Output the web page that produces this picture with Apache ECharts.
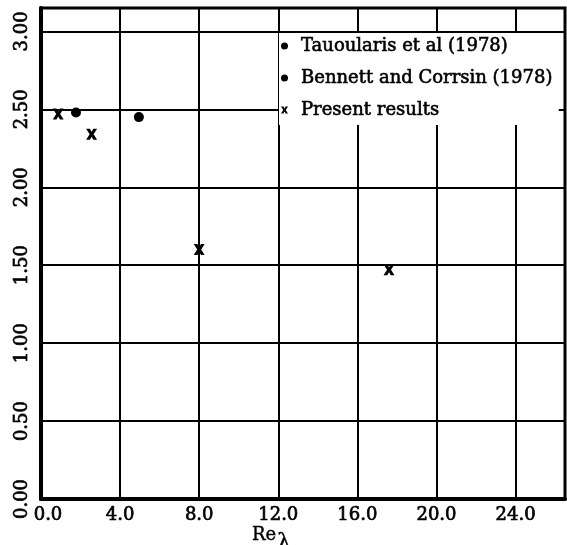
<!DOCTYPE html>
<html>
<head>
<meta charset="utf-8">
<script src="https://cdn.jsdelivr.net/npm/echarts@6/dist/echarts.min.js"></script>
<style>
  html, body { margin: 0; padding: 0; background: #fff; }
  #chart { width: 567px; height: 545px; }
</style>
</head>
<body>
<div id="chart"></div>
<script>
// values
var tauoularis = [[1.77, 2.48]]
var bennett = [[4.95, 2.45]]
var present = [[0.87, 2.47], [2.56, 2.34], [8.0, 1.60], [17.6, 1.47]]
var seriesNames = ['Tauoularis et al (1978)', 'Bennett and Corrsin (1978)', 'Present results']

var serif = '"DejaVu Serif", "Liberation Serif", serif'
var crossPath = 'path://M0,0 L3.4,0 L5,2.8 L6.6,0 L10,0 L6.8,5 L10,10 L6.6,10 L5,7.2 L3.4,10 L0,10 L3.2,5 Z'

var myChart = echarts.init(document.getElementById('chart'))
myChart.setOption({
  animation: false,
  backgroundColor: '#fff',
  title: {
    text: '{a|Re}{b|λ}',
    left: 252,
    top: 518,
    padding: 0,
    textStyle: {
      rich: {
        a: { fontFamily: serif, fontSize: 18, fontWeight: 'normal', color: '#000', textBorderColor: '#000', textBorderWidth: 0.4 },
        b: { fontFamily: serif, fontSize: 21, fontWeight: 'normal', color: '#000', textBorderColor: '#000', textBorderWidth: 0.4, padding: [14, 0, 0, 1] }
      }
    }
  },
  grid: {
    left: 41,
    right: 2,
    top: 8,
    bottom: 46,
    outerBoundsMode: 'none',
    show: true,
    borderColor: '#000',
    borderWidth: 3
  },
  legend: {
    orient: 'vertical',
    left: 279,
    top: 33,
    padding: [3, 6, 5, 2],
    backgroundColor: '#fff',
    itemWidth: 7,
    itemHeight: 7,
    itemGap: 12,
    data: seriesNames,
    textStyle: {
      fontFamily: serif,
      fontSize: 18,
      color: '#000',
      textBorderColor: '#000',
      textBorderWidth: 0.6,
      lineHeight: 20,
      padding: [0, 0, 0, 8]
    }
  },
  xAxis: {
    type: 'value',
    min: 0,
    max: 26.5,
    interval: 4,
    axisLine: { show: true, lineStyle: { color: '#000', width: 4 } },
    axisTick: { show: false },
    splitLine: { show: true, lineStyle: { color: '#000', width: 2 } },
    axisLabel: {
      margin: 7,
      showMaxLabel: false,
      color: '#000',
      fontFamily: serif,
      fontSize: 18,
      textBorderColor: '#000',
      textBorderWidth: 0.7,
      formatter: function (v) {
        // the first label sits to the right of the corner in the original
        return v === 0 ? '{first|' + v.toFixed(1) + '}' : v.toFixed(1)
      },
      rich: {
        first: { fontFamily: serif, fontSize: 18, color: '#000', textBorderColor: '#000', textBorderWidth: 0.7, padding: [0, 0, 0, 14] }
      }
    }
  },
  yAxis: {
    type: 'value',
    min: 0,
    max: 3.15,
    interval: 0.5,
    axisLine: { show: true, lineStyle: { color: '#000', width: 4 } },
    axisTick: { show: false },
    splitLine: { show: true, lineStyle: { color: '#000', width: 2 } },
    axisLabel: {
      rotate: 90,
      margin: 10,
      showMaxLabel: false,
      color: '#000',
      fontFamily: serif,
      fontSize: 18,
      textBorderColor: '#000',
      textBorderWidth: 0.7,
      formatter: function (v) { return v.toFixed(2) }
    }
  },
  series: [
    {
      name: seriesNames[0],
      type: 'scatter',
      data: tauoularis,
      symbol: 'circle',
      symbolSize: 10,
      itemStyle: { color: '#000', opacity: 1 }
    },
    {
      name: seriesNames[1],
      type: 'scatter',
      data: bennett,
      symbol: 'circle',
      symbolSize: 10,
      itemStyle: { color: '#000', opacity: 1 }
    },
    {
      name: seriesNames[2],
      type: 'scatter',
      data: present,
      symbol: crossPath,
      symbolSize: 11,
      itemStyle: { color: '#000', opacity: 1 }
    }
  ]
})
</script>
</body>
</html>
